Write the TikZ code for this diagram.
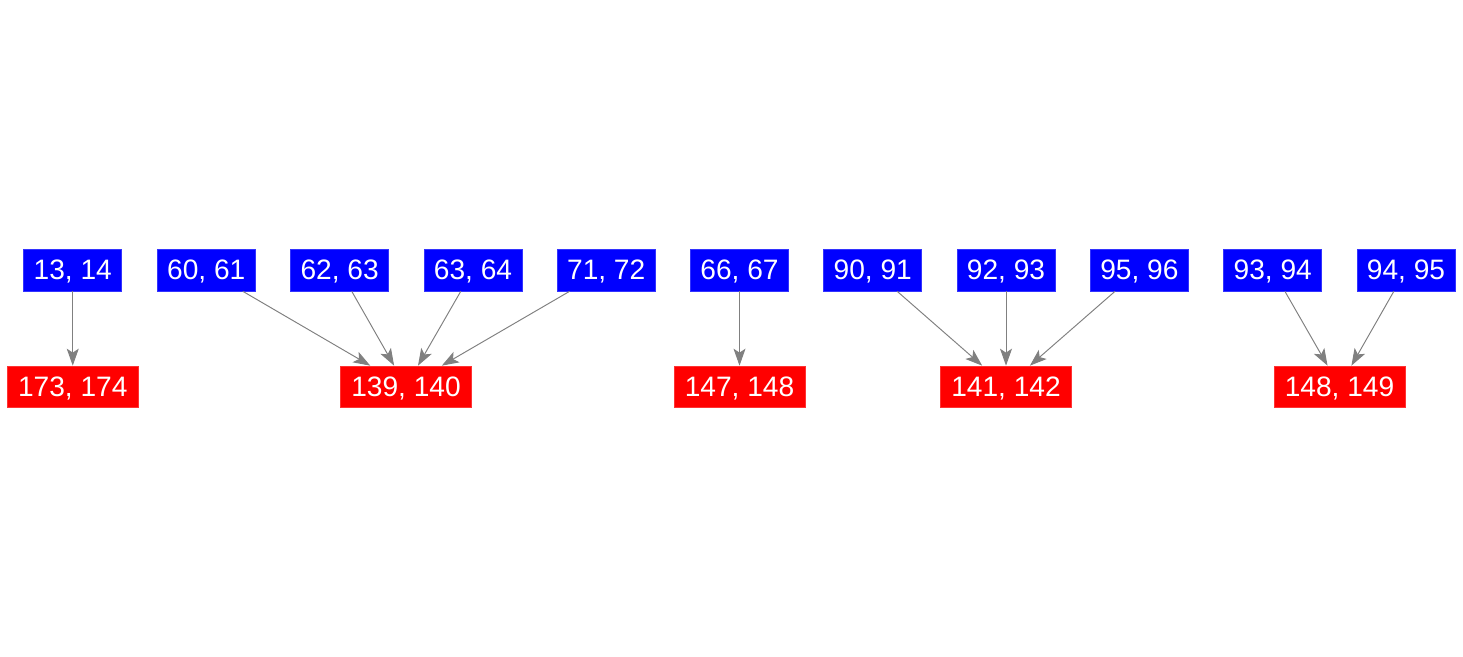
\documentclass[tikz,border=0pt]{standalone}
\usepackage{fontspec}
\setmainfont{Liberation Sans}
\usetikzlibrary{arrows.meta}

\begin{document}
\begin{tikzpicture}[x=0.02cm,y=-0.02cm]
        \tikzstyle{src node}=[fill=blue,draw=blue!80!white,text=white,minimum width=1.96cm,minimum height=0.84cm,inner sep=0pt,text depth=0pt,font=\fontsize{16}{19}\selectfont]
        \tikzstyle{dst node}=[fill=red,draw=red!80!white,text=white,minimum width=2.62cm,minimum height=0.82cm,inner sep=0pt,text depth=0pt,font=\fontsize{16}{19}\selectfont]
        \tikzstyle{link}=[draw=gray,line width=0.55pt,-{Stealth[length=0.34cm,width=0.24cm,inset=0.08cm]}]
        \useasboundingbox (0,0) rectangle (1463,656);
        % sources
        \node[src node] (s13) at (72.75,270) {13, 14};
        \node[src node] (s60) at (206.3,270) {60, 61};
        \node[src node] (s62) at (339.6,270) {62, 63};
        \node[src node] (s63) at (473,270) {63, 64};
        \node[src node] (s71) at (606.2,270) {71, 72};
        \node[src node] (s66) at (739.5,270) {66, 67};
        \node[src node] (s90) at (872.8,270) {90, 91};
        \node[src node] (s92) at (1006,270) {92, 93};
        \node[src node] (s95) at (1139.4,270) {95, 96};
        \node[src node] (s93) at (1272.7,270) {93, 94};
        \node[src node] (s94) at (1406,270) {94, 95};
        % targets
        \node[dst node] (t173) at (72.75,386.5) {173, 174};
        \node[dst node] (t139) at (406,386.5) {139, 140};
        \node[dst node] (t147) at (739.5,386.5) {147, 148};
        \node[dst node] (t141) at (1006,386.5) {141, 142};
        \node[dst node] (t148) at (1339.5,386.5) {148, 149};
        % edges
        \draw[link] (s13) -- (t173);
        \draw[link] (s60) -- (t139);
        \draw[link] (s62) -- (t139);
        \draw[link] (s63) -- (t139);
        \draw[link] (s71) -- (t139);
        \draw[link] (s66) -- (t147);
        \draw[link] (s90) -- (t141);
        \draw[link] (s92) -- (t141);
        \draw[link] (s95) -- (t141);
        \draw[link] (s93) -- (t148);
        \draw[link] (s94) -- (t148);
    \end{tikzpicture}
\end{document}
